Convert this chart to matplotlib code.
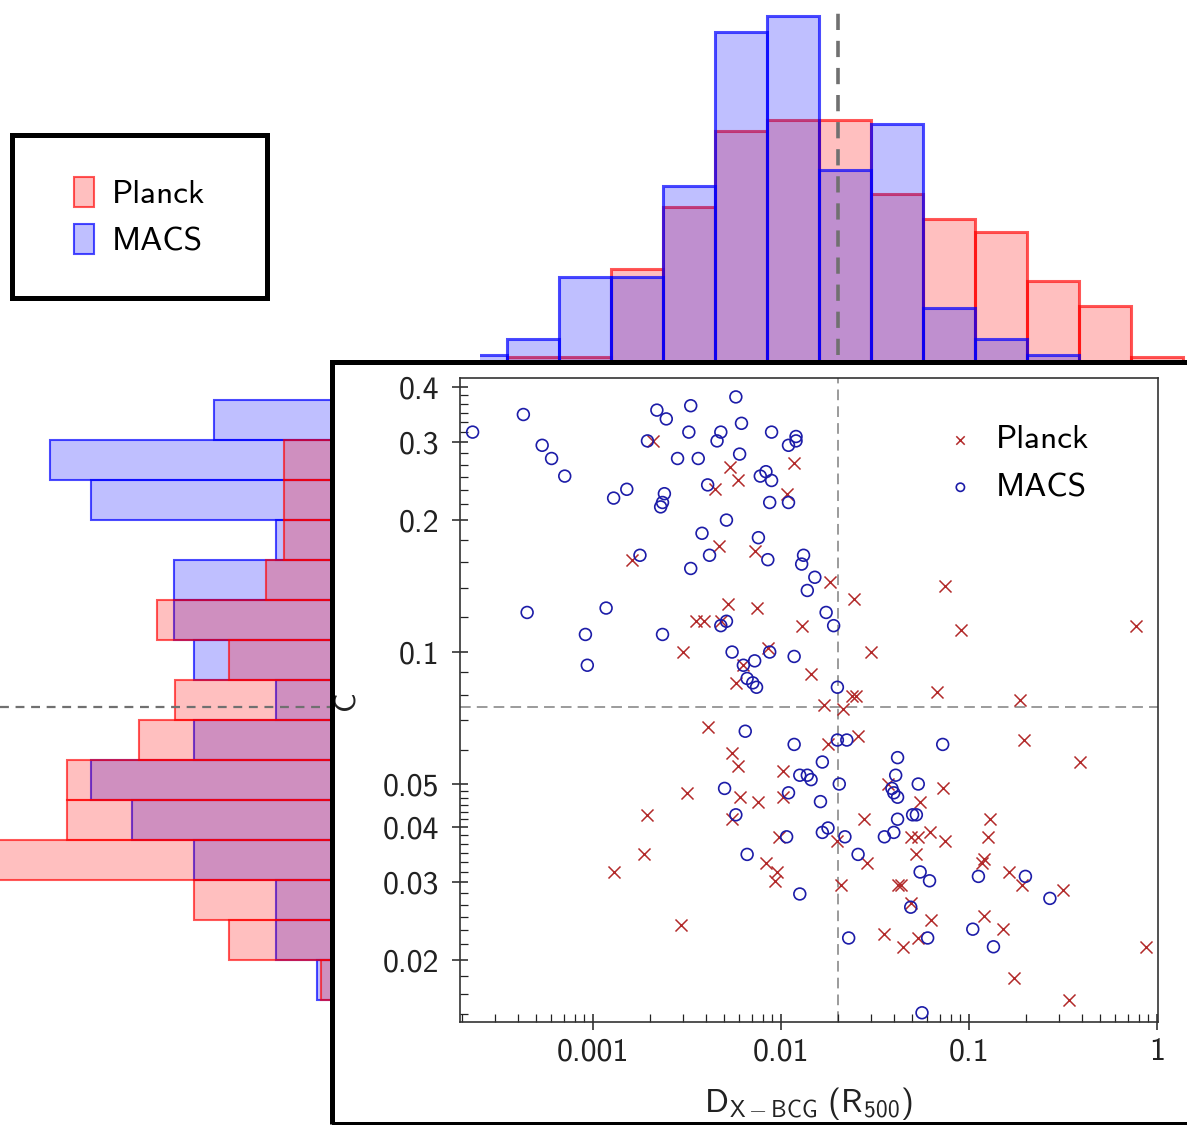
import numpy as np
import matplotlib
matplotlib.use("Agg")
import matplotlib.pyplot as plt
from matplotlib.patches import Patch, Rectangle
from matplotlib.ticker import LogLocator, NullFormatter

plt.rcParams['font.family'] = ['cmss10', 'DejaVu Sans']
plt.rcParams['mathtext.fontset'] = 'custom'
plt.rcParams['mathtext.rm'] = 'cmss10'
plt.rcParams['mathtext.sf'] = 'cmss10'
plt.rcParams['mathtext.it'] = 'cmss10'
plt.rcParams['axes.unicode_minus'] = False

# ---- data (log10 of D_X-BCG in R500, log10 of concentration C) ----
planck_log_d = [-2.68, -2.27, -2.23, -2.35, -1.93, -1.97, -2.79, -2.33, -2.14, -1.74,
                -2.28, -2.13, -2.45, -2.41, -2.32, -1.89, -2.52, -2.07, -1.84, -2.20,
                -2.24, -1.77, -1.13, -1.61, -1.04, -0.11, -1.52, -1.17, -1.62, -1.60,
                -0.73, -1.67, -2.39, -2.26, -2.23, -1.99, -2.50, -2.22, -2.12, -1.99,
                -2.26, -2.71, -2.01, -2.73, -2.08, -2.02, -2.03, -2.89, -2.53, -1.75,
                -1.70, -1.68, -1.59, -0.71, -0.41, -1.14, -1.43, -1.26, -1.56, -0.89,
                -1.31, -1.27, -1.21, -1.13, -0.90, -1.54, -1.28, -0.93, -0.92, -0.79,
                -1.38, -1.36, -0.72, -0.50, -1.31, -1.20, -0.92, -0.82, -1.45, -1.35,
                -1.27, -0.06, -0.76, -0.47]
planck_log_c = [-0.52, -0.58, -0.61, -0.63, -0.57, -0.64, -0.79, -0.76, -0.77, -0.84,
                -0.89, -0.90, -0.93, -0.93, -0.93, -0.94, -1.00, -0.99, -1.05, -1.03,
                -1.07, -1.12, -0.85, -0.88, -0.95, -0.94, -1.00, -1.09, -1.10, -1.10,
                -1.11, -1.13, -1.17, -1.23, -1.26, -1.27, -1.32, -1.33, -1.34, -1.33,
                -1.38, -1.37, -1.42, -1.46, -1.48, -1.50, -1.52, -1.50, -1.62, -1.21,
                -1.43, -1.53, -1.19, -1.20, -1.25, -1.31, -1.30, -1.34, -1.38, -1.38,
                -1.42, -1.42, -1.41, -1.43, -1.42, -1.48, -1.46, -1.48, -1.47, -1.50,
                -1.53, -1.53, -1.53, -1.54, -1.57, -1.61, -1.60, -1.63, -1.64, -1.67,
                -1.65, -1.67, -1.74, -1.79]

macs_log_d = [-3.64, -3.37, -3.27, -3.22, -3.15, -2.89, -2.82, -2.62, -2.63, -2.64,
              -2.71, -2.66, -2.61, -2.48, -2.49, -2.55, -2.44, -2.32, -2.34, -2.24,
              -2.21, -2.22, -2.39, -2.11, -2.08, -2.05, -2.06, -2.05, -1.96, -1.92,
              -1.92, -1.96, -2.42, -2.29, -2.38, -2.48, -2.75, -2.12, -2.07, -1.88,
              -1.89, -1.82, -1.86, -1.76, -1.72, -3.35, -2.93, -3.04, -3.03, -2.63,
              -2.29, -2.32, -2.26, -2.20, -2.14, -2.06, -1.93, -2.18, -2.15, -2.13,
              -1.70, -2.19, -1.93, -1.70, -1.78, -1.90, -1.86, -1.84, -2.30, -1.96,
              -1.79, -1.69, -2.24, -1.97, -1.78, -1.75, -2.18, -1.90, -1.65, -1.14,
              -1.38, -1.39, -1.27, -1.41, -1.40, -1.38, -1.38, -1.30, -1.28, -1.66,
              -1.45, -1.40, -1.59, -1.26, -1.21, -0.95, -0.70, -0.57, -1.31, -1.64,
              -1.22, -0.98, -0.87, -1.25]
macs_log_c = [-0.50, -0.46, -0.53, -0.56, -0.60, -0.65, -0.63, -0.64, -0.66, -0.67,
              -0.52, -0.45, -0.47, -0.44, -0.50, -0.56, -0.56, -0.50, -0.52, -0.42,
              -0.48, -0.55, -0.62, -0.60, -0.59, -0.61, -0.66, -0.50, -0.53, -0.51,
              -0.52, -0.66, -0.73, -0.70, -0.78, -0.81, -0.78, -0.74, -0.79, -0.78,
              -0.80, -0.83, -0.86, -0.91, -0.94, -0.91, -0.90, -0.96, -1.03, -0.96,
              -0.93, -0.94, -1.00, -1.03, -1.02, -1.00, -1.01, -1.06, -1.07, -1.08,
              -1.08, -1.18, -1.21, -1.20, -1.25, -1.28, -1.28, -1.29, -1.31, -1.32,
              -1.34, -1.30, -1.37, -1.42, -1.41, -1.40, -1.46, -1.55, -1.20, -1.21,
              -1.24, -1.28, -1.30, -1.31, -1.32, -1.33, -1.38, -1.37, -1.37, -1.42,
              -1.42, -1.41, -1.46, -1.50, -1.52, -1.51, -1.51, -1.56, -1.58, -1.65,
              -1.65, -1.63, -1.67, -1.82]

# marginal histograms (normalised heights, arbitrary units)
d_bin_edges = [-3.734, -3.457, -3.181, -2.904, -2.628, -2.351, -2.074, -1.798,
               -1.521, -1.245, -0.968, -0.691, -0.415, -0.138, 0.138]
planck_d_hist = [0.0, 0.05, 0.05, 0.93, 1.55, 2.31, 2.42, 2.42, 1.68, 1.43, 1.30, 0.81, 0.56, 0.05]
macs_d_hist = [0.07, 0.23, 0.85, 0.85, 1.76, 3.30, 3.46, 1.92, 2.38, 0.54, 0.23, 0.07, 0.0, 0.0]

c_bin_edges = [-1.791, -1.700, -1.609, -1.518, -1.427, -1.336, -1.245, -1.155,
               -1.064, -0.973, -0.882, -0.791, -0.700, -0.609, -0.518, -0.427]
planck_c_hist = [0.11, 1.03, 1.38, 3.45, 2.65, 2.65, 1.93, 1.57, 1.03, 1.75, 0.66, 0.48, 0.48, 0.48, 0.0]
macs_c_hist = [0.15, 0.56, 0.56, 1.38, 2.00, 2.41, 1.38, 0.56, 1.38, 1.58, 1.58, 0.56, 2.41, 2.82, 1.18]

d_split = 0.02    # dashed reference offset
c_split = 0.075   # dashed reference concentration

labels = ['Planck', 'MACS']
x_ticks = [0.001, 0.01, 0.1, 1]
x_tick_labels = ['0.001', '0.01', '0.1', '1']
y_ticks = [0.02, 0.03, 0.04, 0.05, 0.1, 0.2, 0.3, 0.4]
y_tick_labels = ['0.02', '0.03', '0.04', '0.05', '0.1', '0.2', '0.3', '0.4']

RED = '#b22a2a'
BLUE = '#1c1ca8'
RED_FACE = (1, 0, 0, 0.25)
BLUE_FACE = (0, 0, 1, 0.25)
RED_EDGE = (1, 0, 0, 0.65)
BLUE_EDGE = (0, 0, 1, 0.7)

W, H = 1187, 1125
fig = plt.figure(figsize=(W / 100, H / 100), dpi=100)


def px_box(left, top, right, bottom):
    return [left / W, 1 - bottom / H, (right - left) / W, (bottom - top) / H]


# main scatter panel
sc_px = (460, 378, 1158, 1022)
log_xlim = (-3.707, 0.005)
log_ylim = (-1.841, -0.377)
ax = fig.add_axes(px_box(*sc_px))
ax.scatter(10 ** np.array(planck_log_d), 10 ** np.array(planck_log_c), marker='x', s=75,
           c=RED, linewidths=1.1, label=labels[0], zorder=3)
ax.scatter(10 ** np.array(macs_log_d), 10 ** np.array(macs_log_c), marker='o', s=72,
           facecolors='none', edgecolors=BLUE, linewidths=1.2, label=labels[1], zorder=3)
ax.axvline(d_split, color='#808080', lw=1.1, dashes=(7, 4), zorder=1)
ax.axhline(c_split, color='#808080', lw=1.1, dashes=(7, 4), zorder=1)
ax.set_xscale('log')
ax.set_yscale('log')
ax.set_xlim(10 ** log_xlim[0], 10 ** log_xlim[1])
ax.set_ylim(10 ** log_ylim[0], 10 ** log_ylim[1])

ax.set_xticks(x_ticks, x_tick_labels)
ax.xaxis.set_minor_locator(LogLocator(base=10, subs=np.arange(2, 10)))
ax.xaxis.set_minor_formatter(NullFormatter())
ax.set_yticks(y_ticks, y_tick_labels)
y_minor = np.concatenate([np.arange(0.015, 0.0499, 1 / 600), np.arange(0.06, 0.0999, 0.01),
                          np.arange(0.12, 0.199, 0.02), np.arange(0.2 + 1 / 60, 0.41, 1 / 60)])
ax.set_yticks(y_minor, minor=True)
ax.yaxis.set_minor_formatter(NullFormatter())
ax.tick_params(which='major', direction='inout', length=12, width=1.1, labelsize=23,
               colors='#222222', top=False, right=False)
ax.tick_params(axis='y', which='major', pad=9)
ax.tick_params(axis='x', which='major', pad=5)
ax.tick_params(which='minor', direction='in', length=6, width=0.9, colors='#222222',
               top=False, right=False)
for sp in ax.spines.values():
    sp.set_linewidth(1.2)
    sp.set_color('#333333')

ax.set_xlabel(r'$\mathrm{D_{X-BCG}\ (R_{500})}$', fontsize=24, color='#222222')
ax.xaxis.set_label_coords(0.5, -0.098)
ax.set_ylabel('C', fontsize=22, color='#222222')
ax.yaxis.set_label_coords(-0.142, 0.5)
ax.legend(loc='upper left', bbox_to_anchor=(0.693, 0.927), frameon=False, fontsize=24,
          markerscale=0.7, handlelength=1.0, handletextpad=0.55, labelspacing=0.55,
          borderpad=0, borderaxespad=0)

# top marginal histogram of log10 D
top_left, top_right = 480, 1187
dec_px = (sc_px[2] - sc_px[0]) / (log_xlim[1] - log_xlim[0])
ax_top = fig.add_axes(px_box(top_left, 0, top_right, 362))
edges = np.array(d_bin_edges)
ax_top.bar(edges[:-1], planck_d_hist, width=np.diff(edges), align='edge',
           facecolor=RED_FACE, edgecolor=RED_EDGE, linewidth=2.2)
ax_top.bar(edges[:-1], macs_d_hist, width=np.diff(edges), align='edge',
           facecolor=BLUE_FACE, edgecolor=BLUE_EDGE, linewidth=2.2)
ax_top.axvline(np.log10(d_split), ymin=0.02, ymax=0.99, color='#707070', lw=2.6, dashes=(4.5, 3))
ax_top.set_xlim(log_xlim[0] + (top_left - sc_px[0]) / dec_px,
                log_xlim[1] + (top_right - sc_px[2]) / dec_px)
ax_top.set_ylim(0, 3.62)
ax_top.axis('off')

# left marginal histogram of log10 C
ax_left = fig.add_axes(px_box(0, sc_px[1], 332, sc_px[3]))
cedges = np.array(c_bin_edges)
ax_left.barh(cedges[:-1], macs_c_hist, height=np.diff(cedges), align='edge',
             facecolor=BLUE_FACE, edgecolor=BLUE_EDGE, linewidth=1.5)
ax_left.barh(cedges[:-1], planck_c_hist, height=np.diff(cedges), align='edge',
             facecolor=RED_FACE, edgecolor=RED_EDGE, linewidth=1.5)
ax_left.axhline(np.log10(c_split), color='#707070', lw=1.6, dashes=(4, 3))
ax_left.set_xlim(3.32, 0)
ax_left.set_ylim(*log_ylim)
ax_left.axis('off')

# thick frame around the scatter panel
fig.add_artist(Rectangle((332 / W, 1.5 / H), 1.1, 1 - 363.5 / H, transform=fig.transFigure,
                         fill=False, edgecolor='black', linewidth=3.6, zorder=10))

# histogram legend box
ax_leg = fig.add_axes(px_box(12, 135, 267, 298))
ax_leg.set_xticks([])
ax_leg.set_yticks([])
for sp in ax_leg.spines.values():
    sp.set_linewidth(3.6)
    sp.set_color('black')
handles = [Patch(facecolor=RED_FACE, edgecolor=RED_EDGE, linewidth=1.5),
           Patch(facecolor=BLUE_FACE, edgecolor=BLUE_EDGE, linewidth=1.5)]
ax_leg.legend(handles, labels, loc='center', frameon=False, fontsize=24,
              handlelength=0.6, handleheight=1.0, handletextpad=0.55, labelspacing=0.45,
              borderpad=0)

fig.savefig('out.png', dpi=100)
